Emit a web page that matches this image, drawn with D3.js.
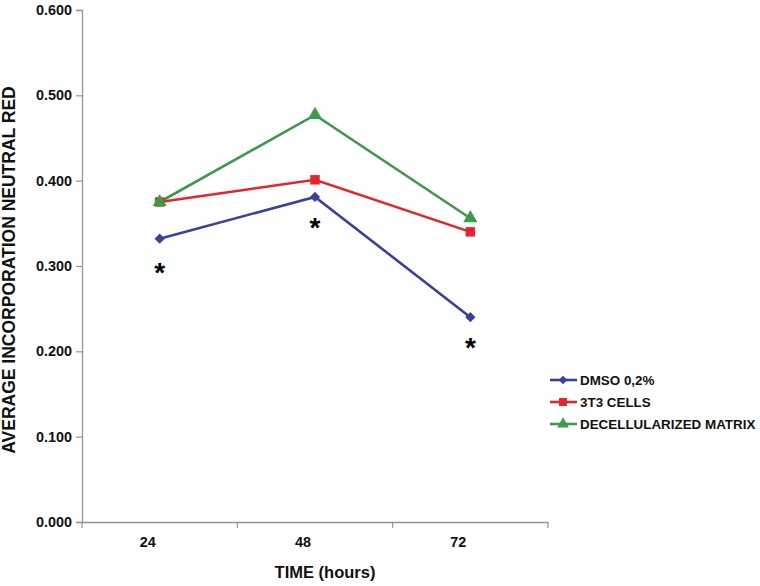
<!DOCTYPE html>
<html><head><meta charset="utf-8">
<script src="https://cdn.jsdelivr.net/npm/d3@7"></script>
<style>body{margin:0;background:#fff}svg{display:block}text{font-family:Arial,"Liberation Sans",sans-serif;font-weight:bold}</style>
</head><body><svg id="c" width="760" height="586"></svg>
<script>
const categories = ["24", "48", "72"];
const yTicks = [0, 0.1, 0.2, 0.3, 0.4, 0.5, 0.6];
const seriesNames = ["DMSO 0,2%", "3T3 CELLS", "DECELLULARIZED MATRIX"];
const dmso = [0.332, 0.381, 0.240];
const cells3t3 = [0.375, 0.401, 0.340];
const decell = [0.375, 0.477, 0.356];
const asterisks = [true, true, true]; // on DMSO at each time

const colors = ["#3b3f9e", "#e3262b", "#3d9a48"];
const symbols = [d3.symbolSquare, d3.symbolSquare, d3.symbolTriangle];
const symRot = [45, 0, 0];
const symSize = [52, 90, 85];
const series = [dmso, cells3t3, decell];

const svg = d3.select("#c");
const mLeft = 82, mRight = 548, mTop = 10, mBottom = 522;
const x = d3.scaleBand().domain(categories).range([mLeft, mRight]);
const y = d3.scaleLinear().domain([0, 0.6]).range([mBottom, mTop]);

// axes
const yAxis = svg.append("g").attr("transform", `translate(${mLeft},0)`)
  .call(d3.axisLeft(y).tickValues(yTicks).tickFormat(d3.format(".3f")).tickSize(6).tickPadding(4));
const xAxis = svg.append("g").attr("transform", `translate(0,${mBottom})`)
  .call(d3.axisBottom(x).tickSize(0).tickPadding(12));
[yAxis, xAxis].forEach(g => {
  g.select(".domain").attr("stroke", "#959595").attr("stroke-width", 1.3);
  g.selectAll(".tick line").attr("stroke", "#959595").attr("stroke-width", 1.2);
  g.selectAll("text").attr("fill", "#111").style("font-size", "14.4px").style("font-weight", "bold");
});
xAxis.selectAll(".tick text").attr("dx", -12).attr("dy", "0.9em");
// x boundary ticks
const bounds = [mLeft, ...categories.map(c => x(c) + x.bandwidth())];
svg.append("g").selectAll("line").data(bounds).join("line")
  .attr("x1", d => d).attr("x2", d => d).attr("y1", mBottom).attr("y2", mBottom + 6)
  .attr("stroke", "#959595").attr("stroke-width", 1.2);

// titles
svg.append("text").attr("transform", `translate(15,270) rotate(-90)`)
  .attr("text-anchor", "middle").style("font-size", "17.5px").attr("fill", "#111")
  .text("AVERAGE INCORPORATION NEUTRAL RED");
svg.append("text").attr("x", 325).attr("y", 578).attr("text-anchor", "middle")
  .style("font-size", "16.5px").attr("fill", "#111").text("TIME (hours)");

// lines
const cx = c => x(c) + x.bandwidth() / 2;
const line = d3.line().x((d, i) => cx(categories[i])).y(d => y(d));
series.forEach((s, k) => {
  svg.append("path").datum(s).attr("d", line).attr("fill", "none")
    .attr("stroke", colors[k]).attr("stroke-width", 2.6);
});
series.forEach((s, k) => {
  svg.append("g").selectAll("path").data(s).join("path")
    .attr("transform", (d, i) => `translate(${cx(categories[i])},${y(d)}) rotate(${symRot[k]})`)
    .attr("d", d3.symbol().type(symbols[k]).size(symSize[k]))
    .attr("fill", colors[k]);
});

// asterisks
svg.append("g").selectAll("text").data(dmso).join("text")
  .filter((d, i) => asterisks[i])
  .attr("x", (d, i) => cx(categories[i])).attr("y", (d, i) => y(d) + (i === 0 ? 43 : 40))
  .attr("text-anchor", "middle").style("font-size", "28px").attr("fill", "#000").text("*");

// legend
const lg = svg.append("g");
seriesNames.forEach((n, k) => {
  const ly = 380 + k * 22;
  lg.append("line").attr("x1", 550).attr("x2", 577).attr("y1", ly).attr("y2", ly)
    .attr("stroke", colors[k]).attr("stroke-width", 2.6);
  lg.append("path").attr("transform", `translate(563,${ly}) rotate(${symRot[k]})`)
    .attr("d", d3.symbol().type(symbols[k]).size(symSize[k] * 0.7)).attr("fill", colors[k]);
  lg.append("text").attr("x", 580).attr("y", ly + 5).style("font-size", "13.4px").attr("fill", "#111").text(n);
});
</script></body></html>
